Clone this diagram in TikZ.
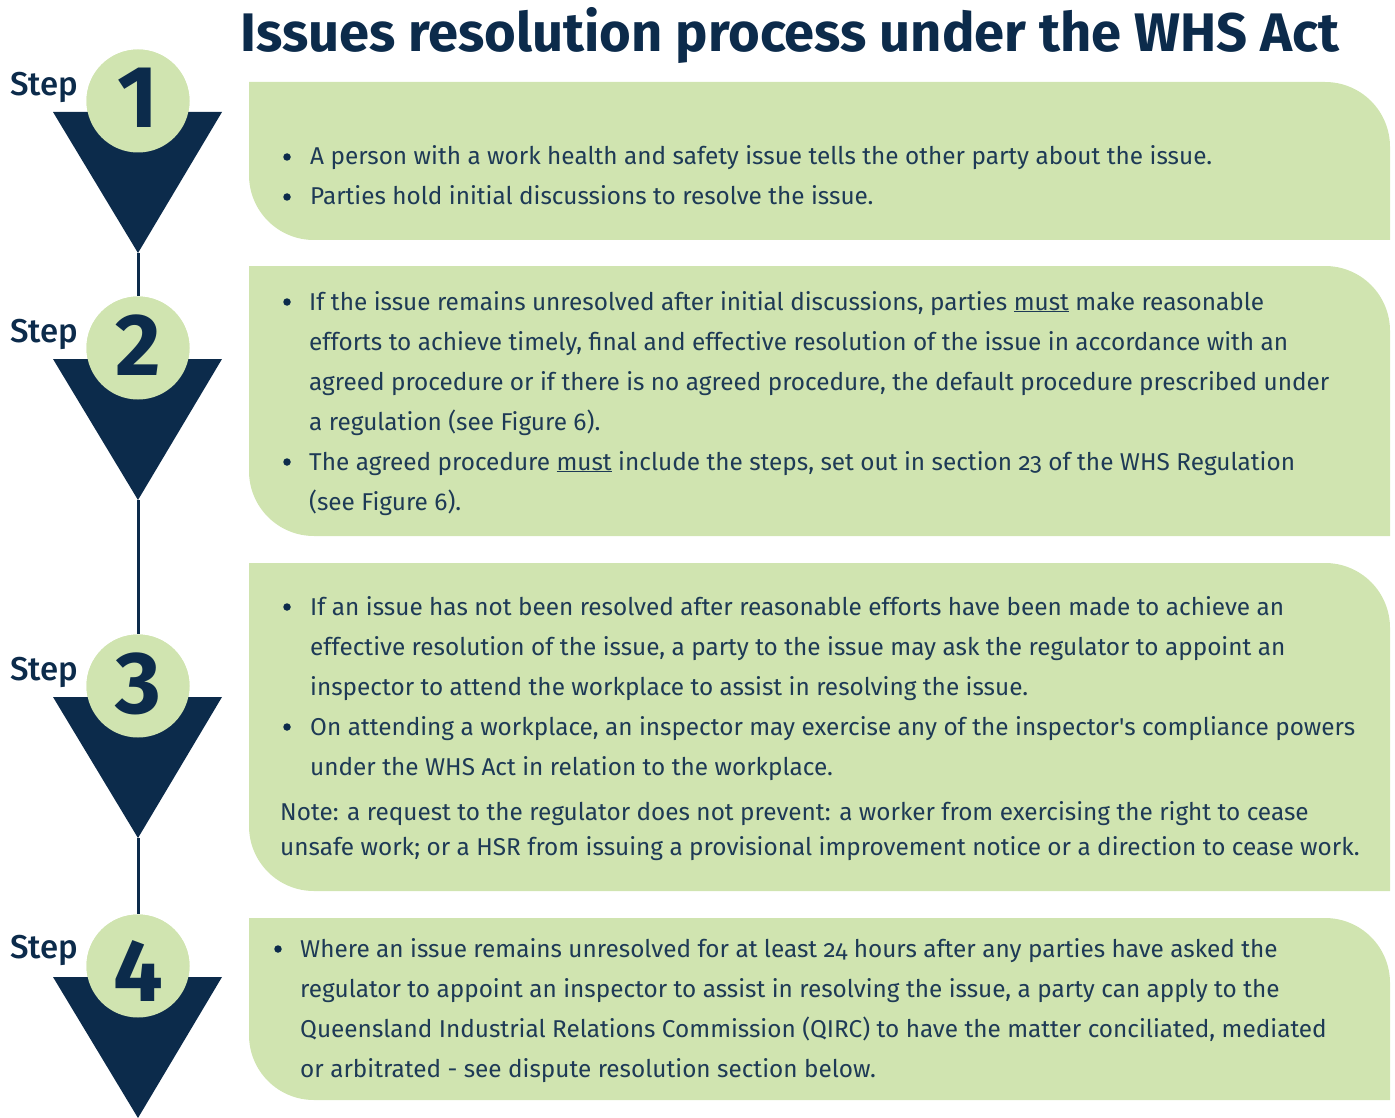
\documentclass[tikz,border=0pt]{standalone}
\usepackage{fontspec}
\setmainfont{Fira Sans}[Numbers=OldStyle]
\newfontfamily\numfont{Fira Sans}[Numbers=Lining]
\newfontfamily\stepfont{Fira Sans Medium}
\definecolor{navy}{HTML}{0C2B4B}
\definecolor{leaf}{HTML}{D0E4B0}
\definecolor{ink}{HTML}{1E3A56}
\newcommand\leafbox[2]{%
  \fill[leaf] (249,#1) -- (1325,#1) .. controls (1361,#1) and (1390,#1+29) .. (1390,#1+65)
    -- (1390,#2) -- (314,#2) .. controls (278,#2) and (249,#2-29) .. (249,#2-65) -- cycle;}
\begin{document}
\begin{tikzpicture}[x=1pt,y=-1pt,
  body/.style={anchor=base west, inner sep=0pt, text=ink, font=\fontsize{24.35}{29}\selectfont},
  dot/.style={circle, fill=navy, minimum size=7.5pt, inner sep=0pt},
  stepword/.style={anchor=base west, inner sep=0pt, text=navy, font=\stepfont\fontsize{33}{36}\selectfont},
  stepnum/.style={anchor=base, inner sep=0pt, text=navy, font=\numfont\bfseries\fontsize{88}{88}\selectfont},
  disc/.style={circle, fill=leaf, minimum size=103pt, inner sep=0pt},
  link/.style={draw=navy, line width=3pt}]
\useasboundingbox (0,0) rectangle (1395,1118);

% title
\node[anchor=base west, inner sep=0pt, text=navy, font=\bfseries\fontsize{54.3}{58}\selectfont] (title) at (240,52) {Issues resolution process under the WHS Act};

% green boxes
\leafbox{82}{240}
\leafbox{266}{536}
\leafbox{563}{891}
\leafbox{918}{1100}

% step markers: circle centres 101, 348, 686, 966
\coordinate (a1) at (138,253);
\coordinate (a2) at (138,500);
\coordinate (a3) at (138,838);
\node[disc] (c1) at (138,101) {};
\node[disc] (c2) at (138,348) {};
\node[disc] (c3) at (138,686) {};
\node[disc] (c4) at (138,966) {};
\draw[link] (a1) -- (c2.north);
\draw[link] (a2) -- (c3.north);
\draw[link] (a3) -- (c4.north);

\fill[navy] (53,112) -- (222,112) -- (a1) -- cycle;
\fill[navy] (53,359) -- (222,359) -- (a2) -- cycle;
\fill[navy] (53,697) -- (222,697) -- (a3) -- cycle;
\fill[navy] (53,977) -- (222,977) -- (138,1118) -- cycle;

\node[disc] (d1) at (138,101) {};
\node[disc] (d2) at (138,348) {};
\node[disc] (d3) at (138,686) {};
\node[disc] (d4) at (138,966) {};

\node[stepnum] (n1) at (138,128) {1};
\node[stepnum] (n2) at (138,375) {2};
\node[stepnum] (n3) at (138,713) {3};
\node[stepnum] (n4) at (138,1001) {4};

\node[stepword] (s1) at (10,96) {Step};
\node[stepword] (s2) at (10,342) {Step};
\node[stepword] (s3) at (10,680) {Step};
\node[stepword] (s4) at (10,958) {Step};

% box 1
\node[dot] (p11) at (287,157) {};
\node[body] (t11) at (310,165) {A person with a work health and safety issue tells the other party about the issue.};
\node[dot] (p12) at (287,197) {};
\node[body] (t12) at (310,205) {Parties hold initial discussions to resolve the issue.};

% box 2
\node[dot] (p21) at (287,302) {};
\node[body] (t21) at (309,310) {If the issue remains unresolved after initial discussions, parties \underline{must} make reasonable};
\node[body] (t22) at (309,350) {efforts to achieve timely, final and effective resolution of the issue in accordance with an};
\node[body] (t23) at (309,390) {agreed procedure or if there is no agreed procedure, the default procedure prescribed under};
\node[body] (t24) at (309,430) {a regulation (see Figure 6).};
\node[dot] (p22) at (287,462) {};
\node[body] (t25) at (309,470) {The agreed procedure \underline{must} include the steps, set out in section 23 of the WHS Regulation};
\node[body] (t26) at (309,510) {(see Figure 6).};

% box 3
\node[dot] (p31) at (287,607) {};
\node[body] (t31) at (310,615) {If an issue has not been resolved after reasonable efforts have been made to achieve an};
\node[body] (t32) at (310,655) {effective resolution of the issue, a party to the issue may ask the regulator to appoint an};
\node[body] (t33) at (310,695) {inspector to attend the workplace to assist in resolving the issue.};
\node[dot] (p32) at (287,727) {};
\node[body] (t34) at (310,735) {On attending a workplace, an inspector may exercise any of the inspector\textquotesingle s compliance powers};
\node[body] (t35) at (310,775) {under the WHS Act in relation to the workplace.};
\node[body] (t36) at (280,820) {Note: a request to the regulator does not prevent: a worker from exercising the right to cease};
\node[body] (t37) at (280,855) {unsafe work; or a HSR from issuing a provisional improvement notice or a direction to cease work.};

% box 4
\node[dot] (p41) at (278,949) {};
\node[body] (t41) at (300,957) {Where an issue remains unresolved for at least 24 hours after any parties have asked the};
\node[body] (t42) at (300,997) {regulator to appoint an inspector to assist in resolving the issue, a party can apply to the};
\node[body] (t43) at (300,1037) {Queensland Industrial Relations Commission (QIRC) to have the matter conciliated, mediated};
\node[body] (t44) at (300,1077) {or arbitrated - see dispute resolution section below.};
\end{tikzpicture}
\end{document}
